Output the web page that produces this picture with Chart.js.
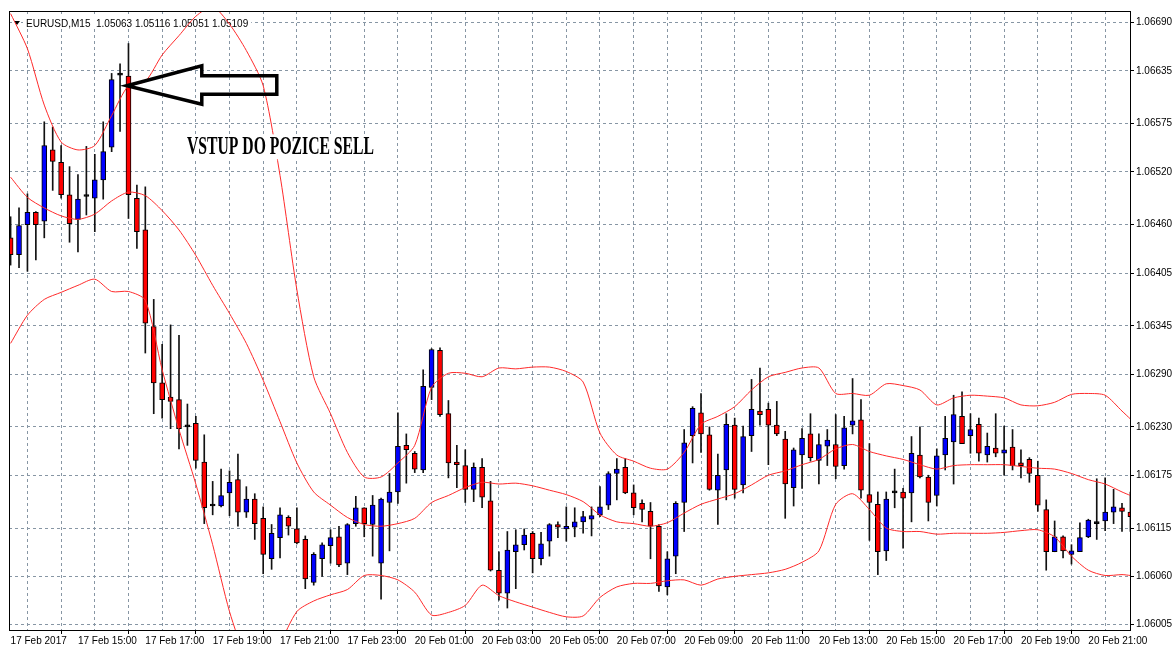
<!DOCTYPE html>
<html>
<head>
<meta charset="utf-8">
<title>EURUSD,M15</title>
<script src="https://cdn.jsdelivr.net/npm/chart.js@4.4.1/dist/chart.umd.min.js"></script>
<style>
    html, body { margin: 0; padding: 0; background: #fff; }
    #wrap { width: 1173px; height: 650px; }
</style>
</head>
<body>
<div id="wrap"><canvas id="chart" width="1173" height="650"></canvas></div>
<script>
// 15 minute candles, 17 Feb 2017 13:00 -> 20 Feb 2017 22:15 (index = bar number)
const opens = [
    1.06445, 1.06426, 1.06460, 1.06474, 1.06464, 1.06545, 1.06531, 1.06494, 1.06466, 1.06492,
    1.06490, 1.06511, 1.06548, 1.06630, 1.06629, 1.06490, 1.06454, 1.06344, 1.06280, 1.06264,
    1.06261, 1.06230, 1.06234, 1.06190, 1.06140, 1.06140, 1.06155, 1.06170, 1.06133, 1.06148,
    1.06126, 1.06080, 1.06104, 1.06127, 1.06114, 1.06102, 1.06053, 1.06080, 1.06095, 1.06105,
    1.06075, 1.06120, 1.06138, 1.06119, 1.06075, 1.06144, 1.06156, 1.06209, 1.06200, 1.06181,
    1.06275, 1.06317, 1.06245, 1.06190, 1.06186, 1.06159, 1.06184, 1.06146, 1.06067, 1.06041,
    1.06088, 1.06096, 1.06109, 1.06080, 1.06100, 1.06119, 1.06114, 1.06116, 1.06122, 1.06125,
    1.06130, 1.06141, 1.06177, 1.06184, 1.06155, 1.06143, 1.06134, 1.06117, 1.06048, 1.06083,
    1.06144, 1.06220, 1.06246, 1.06221, 1.06158, 1.06181, 1.06232, 1.06164, 1.06220, 1.06248,
    1.06250, 1.06232, 1.06216, 1.06161, 1.06198, 1.06222, 1.06192, 1.06208, 1.06210, 1.06186,
    1.06232, 1.06238, 1.06153, 1.06142, 1.06089, 1.06155, 1.06156, 1.06155, 1.06198, 1.06173,
    1.06152, 1.06198, 1.06213, 1.06242, 1.06220, 1.06233, 1.06198, 1.06206, 1.06200, 1.06207,
    1.06189, 1.06193, 1.06175, 1.06136, 1.06088, 1.06105, 1.06085, 1.06088, 1.06105, 1.06120,
    1.06123, 1.06133, 1.06138, 1.06133
];
const highs = [
    1.06469, 1.06479, 1.06495, 1.06475, 1.06577, 1.06571, 1.06550, 1.06526, 1.06517, 1.06549,
    1.06540, 1.06577, 1.06632, 1.06643, 1.06666, 1.06505, 1.06503, 1.06375, 1.06324, 1.06346,
    1.06334, 1.06256, 1.06242, 1.06221, 1.06168, 1.06182, 1.06180, 1.06199, 1.06162, 1.06154,
    1.06139, 1.06119, 1.06138, 1.06129, 1.06138, 1.06106, 1.06087, 1.06098, 1.06113, 1.06117,
    1.06120, 1.06151, 1.06138, 1.06152, 1.06149, 1.06177, 1.06246, 1.06222, 1.06202, 1.06295,
    1.06319, 1.06320, 1.06260, 1.06209, 1.06204, 1.06189, 1.06194, 1.06168, 1.06088, 1.06111,
    1.06113, 1.06114, 1.06111, 1.06110, 1.06120, 1.06122, 1.06139, 1.06138, 1.06134, 1.06139,
    1.06162, 1.06179, 1.06194, 1.06194, 1.06164, 1.06147, 1.06144, 1.06119, 1.06088, 1.06145,
    1.06227, 1.06253, 1.06268, 1.06230, 1.06199, 1.06245, 1.06240, 1.06231, 1.06284, 1.06297,
    1.06257, 1.06259, 1.06225, 1.06206, 1.06228, 1.06245, 1.06222, 1.06227, 1.06244, 1.06242,
    1.06285, 1.06261, 1.06211, 1.06156, 1.06156, 1.06182, 1.06160, 1.06219, 1.06230, 1.06175,
    1.06205, 1.06242, 1.06266, 1.06270, 1.06245, 1.06240, 1.06223, 1.06245, 1.06231, 1.06227,
    1.06204, 1.06195, 1.06191, 1.06147, 1.06123, 1.06106, 1.06096, 1.06121, 1.06125, 1.06171,
    1.06172, 1.06159, 1.06143, 1.06156
];
const lows = [
    1.06414, 1.06411, 1.06407, 1.06420, 1.06445, 1.06499, 1.06490, 1.06440, 1.06429, 1.06471,
    1.06452, 1.06489, 1.06543, 1.06566, 1.06467, 1.06433, 1.06314, 1.06245, 1.06240, 1.06228,
    1.06205, 1.06209, 1.06183, 1.06120, 1.06130, 1.06139, 1.06129, 1.06117, 1.06127, 1.06102,
    1.06063, 1.06068, 1.06081, 1.06107, 1.06097, 1.06046, 1.06050, 1.06060, 1.06075, 1.06071,
    1.06062, 1.06117, 1.06105, 1.06083, 1.06034, 1.06089, 1.06143, 1.06166, 1.06178, 1.06178,
    1.06261, 1.06242, 1.06172, 1.06161, 1.06144, 1.06145, 1.06138, 1.06066, 1.06033, 1.06024,
    1.06046, 1.06090, 1.06064, 1.06073, 1.06083, 1.06104, 1.06100, 1.06105, 1.06109, 1.06106,
    1.06128, 1.06136, 1.06147, 1.06154, 1.06130, 1.06122, 1.06080, 1.06043, 1.06039, 1.06063,
    1.06111, 1.06189, 1.06201, 1.06158, 1.06119, 1.06147, 1.06149, 1.06155, 1.06202, 1.06232,
    1.06187, 1.06220, 1.06126, 1.06140, 1.06160, 1.06191, 1.06165, 1.06186, 1.06171, 1.06182,
    1.06222, 1.06149, 1.06101, 1.06062, 1.06078, 1.06138, 1.06092, 1.06122, 1.06172, 1.06123,
    1.06140, 1.06181, 1.06165, 1.06211, 1.06200, 1.06191, 1.06190, 1.06196, 1.06175, 1.06181,
    1.06172, 1.06167, 1.06134, 1.06067, 1.06088, 1.06081, 1.06074, 1.06088, 1.06104, 1.06102,
    1.06112, 1.06120, 1.06111, 1.06111
];
const closes = [
    1.06426, 1.06459, 1.06474, 1.06460, 1.06550, 1.06532, 1.06494, 1.06461, 1.06489, 1.06492,
    1.06511, 1.06543, 1.06625, 1.06630, 1.06494, 1.06452, 1.06348, 1.06280, 1.06261, 1.06259,
    1.06228, 1.06230, 1.06192, 1.06138, 1.06140, 1.06152, 1.06167, 1.06133, 1.06148, 1.06120,
    1.06085, 1.06109, 1.06130, 1.06117, 1.06098, 1.06057, 1.06085, 1.06096, 1.06104, 1.06073,
    1.06119, 1.06138, 1.06120, 1.06141, 1.06148, 1.06156, 1.06208, 1.06204, 1.06182, 1.06276,
    1.06318, 1.06244, 1.06189, 1.06187, 1.06159, 1.06184, 1.06150, 1.06067, 1.06041, 1.06090,
    1.06096, 1.06107, 1.06080, 1.06097, 1.06119, 1.06116, 1.06117, 1.06122, 1.06128, 1.06129,
    1.06139, 1.06177, 1.06182, 1.06155, 1.06138, 1.06136, 1.06117, 1.06049, 1.06080, 1.06143,
    1.06212, 1.06251, 1.06222, 1.06159, 1.06175, 1.06233, 1.06159, 1.06219, 1.06250, 1.06244,
    1.06232, 1.06222, 1.06165, 1.06204, 1.06217, 1.06195, 1.06210, 1.06215, 1.06185, 1.06229,
    1.06237, 1.06158, 1.06144, 1.06088, 1.06148, 1.06155, 1.06149, 1.06200, 1.06173, 1.06144,
    1.06197, 1.06217, 1.06244, 1.06211, 1.06227, 1.06200, 1.06208, 1.06200, 1.06204, 1.06186,
    1.06186, 1.06177, 1.06141, 1.06088, 1.06105, 1.06089, 1.06089, 1.06104, 1.06124, 1.06120,
    1.06133, 1.06139, 1.06134, 1.06128
];

// Bollinger bands, read every second bar
const bandIdx = [
    0, 2, 4, 6, 8, 10, 12, 14, 16, 18, 20, 22, 24, 26, 28, 30, 32, 34, 36, 38,
    40, 42, 44, 46, 48, 50, 52, 54, 56, 58, 60, 62, 64, 66, 68, 70, 72, 74, 76, 78,
    80, 82, 84, 86, 88, 90, 92, 94, 96, 98, 100, 102, 104, 106, 108, 110, 112, 114, 116, 118,
    120, 122, 124, 126, 128, 130, 132, 133
];
const bandUpper = [
    1.06700, 1.06660, 1.06596, 1.06554, 1.06545, 1.06550, 1.06584, 1.06618, 1.06623, 1.06653,
    1.06675, 1.06697, 1.06708, 1.06688, 1.06658, 1.06618, 1.06516, 1.06386, 1.06287, 1.06245,
    1.06201, 1.06173, 1.06173, 1.06189, 1.06209, 1.06275, 1.06291, 1.06291, 1.06287, 1.06297,
    1.06296, 1.06298, 1.06298, 1.06293, 1.06281, 1.06223, 1.06198, 1.06191, 1.06183, 1.06182,
    1.06201, 1.06233, 1.06242, 1.06253, 1.06272, 1.06287, 1.06292, 1.06297, 1.06297, 1.06268,
    1.06268, 1.06266, 1.06279, 1.06277, 1.06272, 1.06255, 1.06263, 1.06266, 1.06265, 1.06263,
    1.06255, 1.06254, 1.06258, 1.06267, 1.06268, 1.06266, 1.06248, 1.06239
];
const bandMiddle = [
    1.06514, 1.06491, 1.06479, 1.06470, 1.06466, 1.06472, 1.06487, 1.06497, 1.06493, 1.06476,
    1.06454, 1.06425, 1.06391, 1.06359, 1.06325, 1.06283, 1.06236, 1.06189, 1.06156, 1.06141,
    1.06127, 1.06119, 1.06117, 1.06120, 1.06126, 1.06144, 1.06152, 1.06161, 1.06167, 1.06165,
    1.06166, 1.06163, 1.06158, 1.06153, 1.06145, 1.06130, 1.06122, 1.06120, 1.06117, 1.06121,
    1.06132, 1.06142, 1.06148, 1.06154, 1.06164, 1.06175, 1.06180, 1.06187, 1.06193, 1.06205,
    1.06210, 1.06202, 1.06197, 1.06193, 1.06187, 1.06182, 1.06186, 1.06187, 1.06187, 1.06187,
    1.06185, 1.06183, 1.06182, 1.06177, 1.06170, 1.06165, 1.06156, 1.06152
];
const bandLower = [
    1.06325, 1.06357, 1.06375, 1.06383, 1.06391, 1.06398, 1.06384, 1.06384, 1.06374, 1.06295,
    1.06227, 1.06165, 1.06096, 1.06020, 1.05965, 1.05931, 1.05982, 1.06020, 1.06032, 1.06039,
    1.06045, 1.06061, 1.06061, 1.06056, 1.06042, 1.06016, 1.06019, 1.06027, 1.06050, 1.06038,
    1.06031, 1.06025, 1.06019, 1.06014, 1.06015, 1.06036, 1.06048, 1.06052, 1.06052, 1.06055,
    1.06056, 1.06050, 1.06057, 1.06060, 1.06062, 1.06064, 1.06068, 1.06076, 1.06089, 1.06142,
    1.06154, 1.06136, 1.06115, 1.06111, 1.06111, 1.06108, 1.06109, 1.06109, 1.06109, 1.06110,
    1.06112, 1.06113, 1.06105, 1.06083, 1.06067, 1.06061, 1.06062, 1.06061
];

// axis labels
const timeTickIdx = [0, 8, 16, 24, 32, 40, 48, 56, 64, 72, 80, 88, 96, 104, 112, 120, 128];
const timeTickLabels = [
    '17 Feb 2017', '17 Feb 15:00', '17 Feb 17:00', '17 Feb 19:00', '17 Feb 21:00', '17 Feb 23:00',
    '20 Feb 01:00', '20 Feb 03:00', '20 Feb 05:00', '20 Feb 07:00', '20 Feb 09:00', '20 Feb 11:00',
    '20 Feb 13:00', '20 Feb 15:00', '20 Feb 17:00', '20 Feb 19:00', '20 Feb 21:00'
];
const priceTicks = [
    1.06005, 1.06060, 1.06115, 1.06175, 1.06230, 1.06290, 1.06345,
    1.06405, 1.06460, 1.06520, 1.06575, 1.06635, 1.06690
];

const headerText = 'EURUSD,M15  1.05063 1.05116 1.05051 1.05109';
const noteText = 'VSTUP DO POZICE SELL';

const BULL = '#0000ff';
const BEAR = '#ff0000';
const GRID = '#8796a4';
const BAND = '#ff2a2a';

const timeLabelAt = {};
timeTickIdx.forEach((t, k) => { timeLabelAt[t] = timeTickLabels[k]; });

const bodyData = opens.map((o, i) => ({ x: i, y: [o, closes[i]] }));
const wickData = lows.map((l, i) => ({ x: i, y: [l, highs[i]] }));
const bodyColors = opens.map((o, i) => closes[i] > o ? BULL : (closes[i] < o ? BEAR : '#000'));

function bandLine(values, label) {
    return {
        type: 'line',
        label: label,
        data: bandIdx.map((x, k) => ({ x: x, y: values[k] })),
        borderColor: BAND,
        borderWidth: 1,
        pointRadius: 0,
        tension: 0.25,
        fill: false,
        order: 0
    };
}

const overlay = {
    id: 'overlay',
    beforeDatasetsDraw(chart) {
        // symbol header sits on top of the grid but under the indicator lines
        const { ctx, chartArea: a } = chart;
        ctx.save();
        ctx.font = '10px "Liberation Sans", Arial, sans-serif';
        const hw = ctx.measureText(headerText).width;
        ctx.fillStyle = '#fff';
        ctx.fillRect(a.left + 14, a.top + 5, hw + 6, 13);
        ctx.fillStyle = '#000';
        ctx.beginPath();
        ctx.moveTo(a.left + 5, a.top + 10);
        ctx.lineTo(a.left + 11, a.top + 10);
        ctx.lineTo(a.left + 8, a.top + 14);
        ctx.closePath();
        ctx.fill();
        ctx.textBaseline = 'alphabetic';
        ctx.fillText(headerText, a.left + 17, a.top + 16);
        ctx.restore();
    },
    afterDatasetsDraw(chart) {
        const { ctx, scales: { x, y } } = chart;
        ctx.save();

        // text note with white box behind it
        const tx = x.getPixelForValue(20.95);
        const ty = y.getPixelForValue(1.06540);
        ctx.font = 'bold 25px "Liberation Serif", "Times New Roman", serif';
        const w = ctx.measureText(noteText).width;
        const sx = 187 / w;
        ctx.fillStyle = '#fff';
        ctx.fillRect(tx - 2, ty - 20, w * sx + 6, 25);
        ctx.translate(tx, ty);
        ctx.scale(sx, 1);
        ctx.fillStyle = '#000';
        ctx.textBaseline = 'alphabetic';
        ctx.fillText(noteText, 0, 0);
        ctx.restore();

        // hollow arrow pointing at the sell entry
        ctx.save();
        const ax = x.getPixelForValue(13.8);
        const ay = y.getPixelForValue(1.06618);
        ctx.beginPath();
        ctx.moveTo(ax, ay);
        ctx.lineTo(ax + 75, ay - 20);
        ctx.lineTo(ax + 75, ay - 10);
        ctx.lineTo(ax + 150, ay - 10);
        ctx.lineTo(ax + 150, ay + 8.5);
        ctx.lineTo(ax + 75, ay + 8.5);
        ctx.lineTo(ax + 75, ay + 18.5);
        ctx.closePath();
        ctx.lineWidth = 3.5;
        ctx.lineJoin = 'miter';
        ctx.strokeStyle = '#000';
        ctx.stroke();
        ctx.restore();
    },
    afterDraw(chart) {
        const { ctx, chartArea: a } = chart;
        ctx.save();
        ctx.strokeStyle = '#000';
        ctx.lineWidth = 1;
        ctx.strokeRect(Math.round(a.left) + 0.5, Math.round(a.top) + 0.5,
            Math.round(a.right - a.left), Math.round(a.bottom - a.top));
        ctx.restore();
    }
};

Chart.defaults.font.family = '"Liberation Sans", Arial, sans-serif';
Chart.defaults.font.size = 10;
Chart.defaults.color = '#000';

new Chart(document.getElementById('chart'), {
    type: 'bar',
    data: {
        datasets: [
            {
                label: 'body',
                data: bodyData,
                backgroundColor: bodyColors,
                borderColor: '#000',
                borderWidth: 1,
                borderSkipped: false,
                barThickness: 5,
                minBarLength: 2,
                grouped: false,
                clip: 0,
                order: 1
            },
            {
                label: 'wick',
                data: wickData,
                backgroundColor: '#111',
                borderWidth: 0,
                barThickness: 1,
                grouped: false,
                clip: 0,
                order: 2
            },
            bandLine(bandUpper, 'upper'),
            bandLine(bandMiddle, 'middle'),
            bandLine(bandLower, 'lower')
        ]
    },
    options: {
        responsive: false,
        animation: false,
        events: [],
        layout: { padding: { left: 9, top: 11, right: 0, bottom: 0 } },
        plugins: {
            legend: { display: false },
            tooltip: { enabled: false }
        },
        scales: {
            x: {
                type: 'linear',
                offset: false,
                min: -0.19,
                max: 132.95,
                afterBuildTicks(axis) {
                    const ticks = [];
                    for (let t = 0; t <= 132; t += 4) ticks.push({ value: t });
                    axis.ticks = ticks;
                },
                afterFit(axis) { axis.height = 20; },
                grid: {
                    color: GRID,
                    lineWidth: 1,
                    tickLength: 4,
                    tickColor: (c) => (c.tick && timeLabelAt[c.tick.value] !== undefined) ? '#000' : 'rgba(0,0,0,0)'
                },
                border: { display: true, color: '#000', width: 1, dash: [3, 3] },
                ticks: {
                    autoSkip: false,
                    maxRotation: 0,
                    align: 'start',
                    padding: 1,
                    color: '#000',
                    callback: (v) => timeLabelAt[v] !== undefined ? timeLabelAt[v] : ''
                }
            },
            y: {
                type: 'linear',
                position: 'right',
                min: 1.05999,
                max: 1.06703,
                afterBuildTicks(axis) {
                    axis.ticks = priceTicks.map(v => ({ value: v }));
                },
                afterFit(axis) { axis.width = 43; },
                grid: {
                    color: GRID,
                    lineWidth: 1,
                    tickLength: 4,
                    tickColor: '#000'
                },
                border: { display: true, color: '#000', width: 1, dash: [3, 3] },
                ticks: {
                    padding: 2,
                    color: '#000',
                    callback: (v) => Number(v).toFixed(5)
                }
            }
        }
    },
    plugins: [overlay]
});
</script>
</body>
</html>
